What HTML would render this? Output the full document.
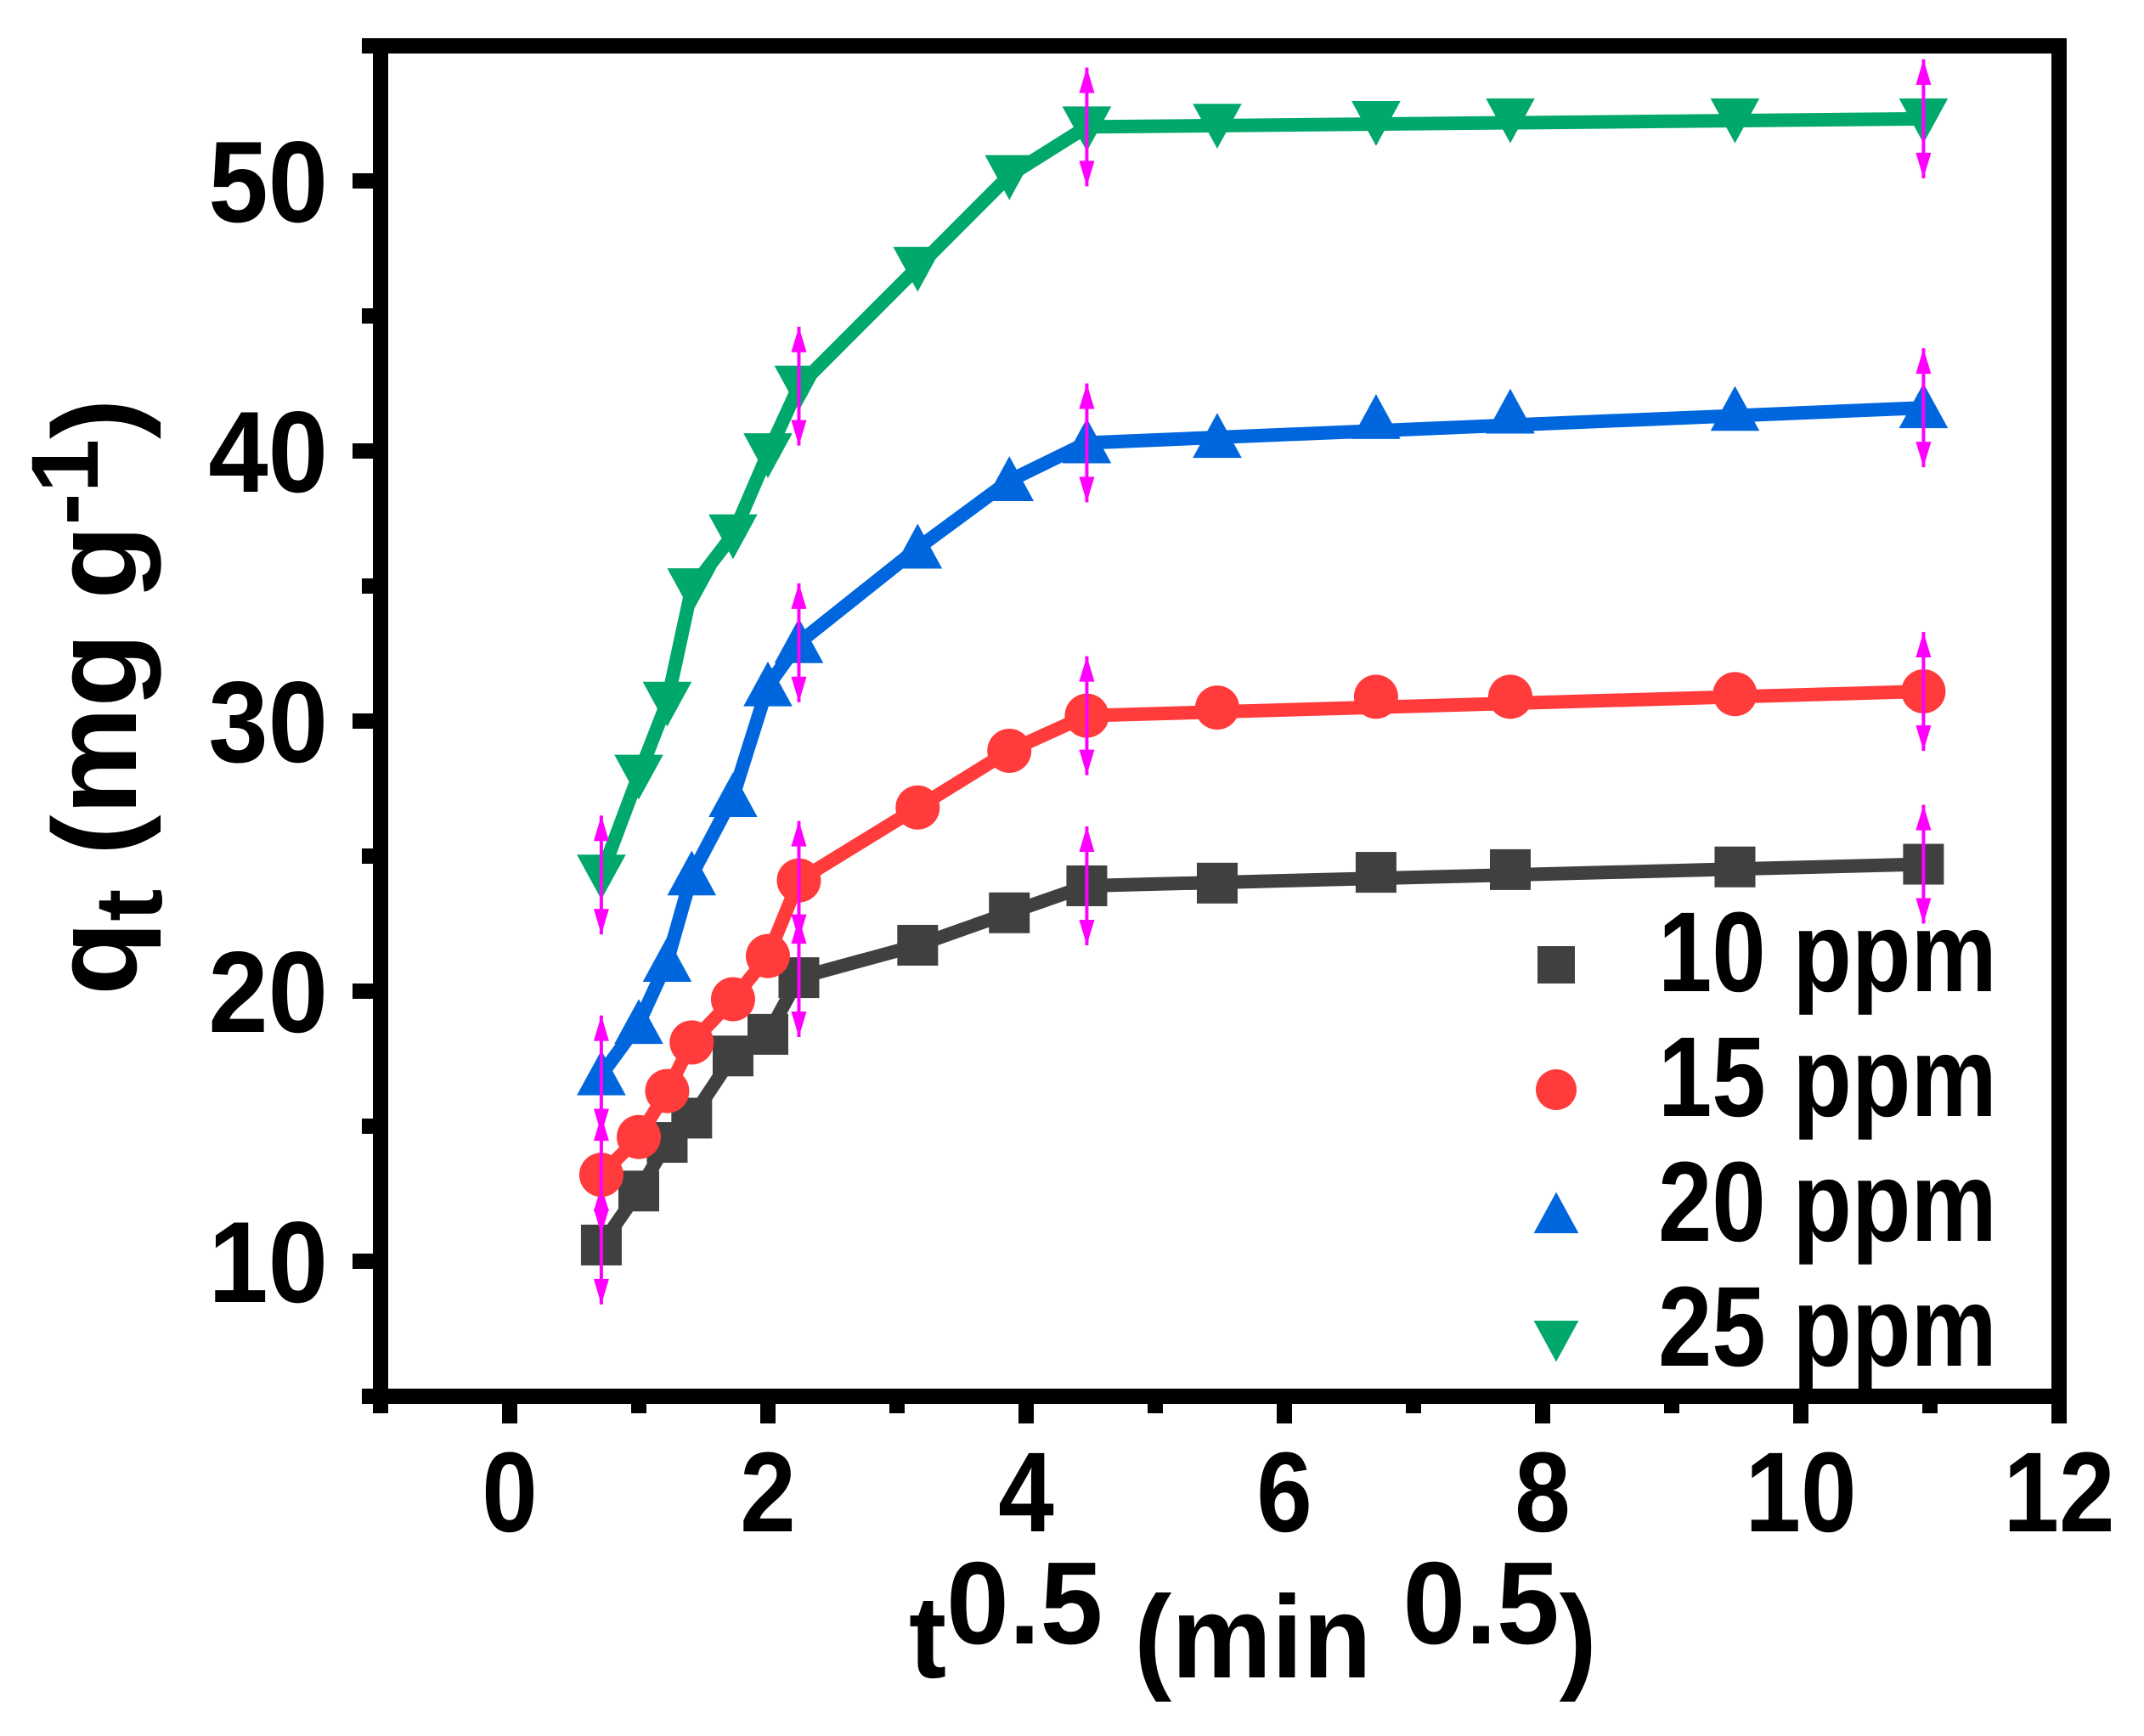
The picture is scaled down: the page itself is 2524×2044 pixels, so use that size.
<!DOCTYPE html>
<html><head><meta charset="utf-8"><style>
html,body{margin:0;padding:0;background:#fff;}
svg{display:block;}
text{font-family:"Liberation Sans",Arial,sans-serif;font-weight:bold;fill:#000;}
</style></head>
<body>
<svg id="chart" width="2524" height="2044" viewBox="0 0 2524 2044" xmlns="http://www.w3.org/2000/svg">
<g id="plot"></g>
<g id="axes"></g>
<g id="legend"></g>
</svg>
<script>
const xValues=[0.71,1,1.22,1.41,1.73,2,2.24,3.16,3.87,4.47,5.48,6.71,7.75,9.49,10.95];
const s10=[10.6,12.6,14.4,15.3,17.6,18.4,20.5,21.7,22.9,23.9,24.0,24.4,24.5,24.6,24.7];
const s15=[13.2,14.6,16.3,18.1,19.7,21.3,24.1,26.8,28.9,30.2,30.5,30.9,30.9,31.0,31.1];
const s20=[16.9,18.8,21.1,24.3,27.2,31.3,32.9,36.4,38.9,40.3,40.5,41.2,41.4,41.5,41.6];
const s25=[24.3,28.0,30.7,34.9,36.9,39.9,42.4,46.8,50.2,52.0,52.1,52.2,52.3,52.3,52.3];
const seriesNames=["10 ppm","15 ppm","20 ppm","25 ppm"];
const errIdx=[0,6,9,14];
const errSize=[2.2,2.2,2.2,2.2];
const xTicks=[0,2,4,6,8,10,12];
const xMinor=[-1,1,3,5,7,9,11];
const yTicks=[10,20,30,40,50];
const yMinor=[5,15,25,35,45,55];

const NS="http://www.w3.org/2000/svg";
const L=448,R=2424,T=54,B=1644;
const X0=-1,X1=12,Y0=5,Y1=55;
const sx=v=>L+(v-X0)/(X1-X0)*(R-L);
const sy=v=>B-(v-Y0)/(Y1-Y0)*(B-T);
function mk(tag,attrs,parent){const e=document.createElementNS(NS,tag);for(const k in attrs)e.setAttribute(k,attrs[k]);parent.appendChild(e);return e;}
const plot=document.getElementById('plot'),axes=document.getElementById('axes'),legend=document.getElementById('legend');
const colors=["#404040","#ff3b3b","#0066dd","#00a86b"];
const shapes=["square","circle","up","down"];
const allSeries=[s10,s15,s20,s25];

function marker(shape,cx,cy,col,sz,parent){
  let e;
  if(shape==="square"){e=mk('rect',{x:cx-sz/2,y:cy-sz/2,width:sz,height:sz,fill:col},parent);}
  else if(shape==="circle"){e=mk('circle',{cx:cx,cy:cy,r:sz/2+2,fill:col},parent);}
  else if(shape==="up"){const h=sz*1.0,w=sz*1.2;e=mk('polygon',{points:`${cx-w/2},${cy+h/2} ${cx+w/2},${cy+h/2} ${cx},${cy-h*0.6}`,fill:col},parent);}
  else {const h=sz*1.0,w=sz*1.2;e=mk('polygon',{points:`${cx-w/2},${cy-h/2} ${cx+w/2},${cy-h/2} ${cx},${cy+h*0.6}`,fill:col},parent);}
  return e;
}

allSeries.forEach((ser,si)=>{
  const g=mk('g',{},plot);
  
  
  let pts=[];
  for(let i=0;i<=9;i++)pts.push(sx(xValues[i])+','+sy(ser[i]));
  pts.push(sx(xValues[14])+','+sy(ser[14]));
  const line=mk('polyline',{points:pts.join(' '),fill:'none',stroke:colors[si],'stroke-width':16,'stroke-linejoin':'miter'},g);
  
  
  ser.forEach((v,i)=>{
    const m=marker(shapes[si],sx(xValues[i]),sy(v),colors[si],48,g);
    
    
  });
  errIdx.forEach((ix,k)=>{
    const cx=sx(xValues[ix]),y1=sy(ser[ix]+errSize[k]),y2=sy(ser[ix]-errSize[k]);
    const eg=mk('g',{},g);
    
    
    mk('line',{x1:cx,x2:cx,y1:y1,y2:y2,stroke:'#ff00ff','stroke-width':4},eg);
    mk('polygon',{points:`${cx},${y1} ${cx-9},${y1+30} ${cx+9},${y1+30}`,fill:'#ff00ff'},eg);
    mk('polygon',{points:`${cx},${y2} ${cx-9},${y2-30} ${cx+9},${y2-30}`,fill:'#ff00ff'},eg);
  });
});

const frame=mk('path',{d:`M${L},${T} H${R} V${B} H${L} Z`,fill:'none',stroke:'#000','stroke-width':18,'stroke-linejoin':'miter'},axes);



function label(txt,x,y,size,anchor,parent,sc){
  const t=mk('text',{transform:`translate(${x},${y}) scale(${sc||0.84},1)`,'font-size':size,'text-anchor':anchor},parent);
  t.textContent=txt;return t;
}
xTicks.forEach(v=>{
  mk('rect',{x:sx(v)-9,y:B,width:18,height:32,fill:'#000'},axes);
  const t=label(String(v),sx(v),1803,134,'middle',axes,0.88);
  
  
});
xMinor.forEach(v=>{mk('rect',{x:sx(v)-9,y:B,width:18,height:20,fill:'#000'},axes);});
yTicks.forEach(v=>{
  mk('rect',{x:L-33,y:sy(v)-9,width:33,height:18,fill:'#000'},axes);
  const t=label(String(v),386,sy(v)+48,136,'end',axes,0.93);
  
  
});
yMinor.forEach(v=>{mk('rect',{x:L-22,y:sy(v)-9,width:22,height:18,fill:'#000'},axes);});

const xt=mk('text',{transform:'translate(1070,1975) scale(0.96,1)','font-size':138},axes);


xt.innerHTML='t<tspan dy="-40">0.5</tspan><tspan dy="40"> (min </tspan><tspan dy="-40">0.5</tspan><tspan dy="40">)</tspan>';

const yt=mk('text',{transform:'translate(160,1172) rotate(-90) scale(1.02,1)','font-size':140},axes);


yt.innerHTML='q<tspan dy="30" font-size="112">t</tspan><tspan dy="-30"> (mg g</tspan><tspan dy="-45" font-size="112">-1</tspan><tspan dy="45">)</tspan>';

const legY=[1136,1283,1430,1577],legBase=[1167,1314,1461,1608];
seriesNames.forEach((n,i)=>{
  const g=mk('g',{},legend);
  
  
  marker(shapes[i],1832,legY[i],colors[i],44,g);
  label(n,1952,legBase[i],134,'start',g,0.85);
});
</script>
</body></html>
